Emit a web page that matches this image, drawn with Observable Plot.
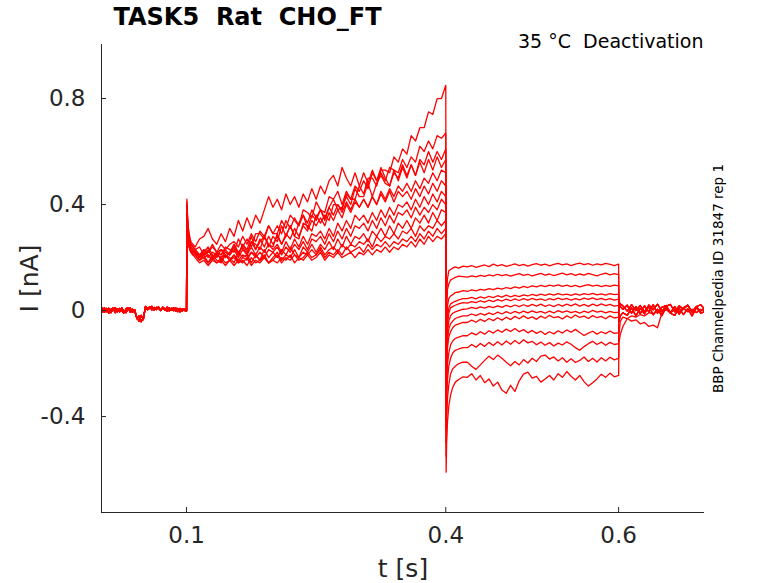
<!DOCTYPE html>
<html>
<head>
<meta charset="utf-8">
<script src="https://cdn.jsdelivr.net/npm/d3@7"></script>
<script src="https://cdn.jsdelivr.net/npm/@observablehq/plot@0.6"></script>
<style>
  html, body { margin: 0; padding: 0; background: #fff; }
</style>
</head>
<body>
<div id="chart"></div>
<script>
// ---- labels & ticks ----
const title = "TASK5\u00a0 Rat\u00a0 CHO_FT";
const subtitle = "35 °C\u00a0 Deactivation";
const sideLabel = "BBP Channelpedia ID 31847 rep 1";
const xLabel = "t [s]";
const yLabel = "I [nA]";
const xTicks = [0.1, 0.4, 0.6];
const yTicks = [-0.4, 0, 0.4, 0.8];
const xDomain = [0.0016, 0.6994];
const yDomain = [-0.762, 1.004];

// ---- sample times (s) ----
const tBase = d3.range(41).map(k => k * 0.0025);                 // 0 .. 0.1
const tOn1 = [0.1004, 0.1015, 0.103, 0.105, 0.1075];               // step-1 onset
const tStep1 = d3.range(59).map(k => 0.11 + k * 0.005);            // 0.11 .. 0.40
const tOn2 = [0.4004, 0.401, 0.402, 0.4035, 0.4055, 0.408, 0.411, 0.415, 0.42];
const tStep2 = d3.range(36).map(k => 0.425 + k * 0.005);           // 0.425 .. 0.60
const tTail = [0.6004, 0.602, 0.605].concat(d3.range(19).map(k => 0.61 + k * 0.005));

// ---- holding baseline (nA) ----
const baseA = [0.008,-0.006,0.010,-0.004,0.009,-0.008,0.006,0.011,-0.005,0.008,-0.002,-0.009,0.007,0.010,-0.006,0.005,-0.004,-0.025,-0.040,-0.018,-0.034,0.016,0.006,0.015,0.003,0.012,0.004,0.014,0.001,0.011,0.002,0.013,-0.001,0.009,0.000,0.010,-0.004,0.008,-0.002,0.007,0.001];
const baseB = [-0.006,0.009,-0.007,0.008,-0.010,0.005,0.009,-0.008,0.006,-0.005,0.010,-0.003,-0.008,0.006,0.009,-0.007,0.003,-0.030,-0.020,-0.042,-0.026,0.012,0.003,0.010,0.016,0.001,0.012,0.009,0.000,0.013,0.006,-0.002,0.010,0.002,0.011,-0.003,0.008,-0.005,0.006,0.001,-0.002];

// ---- step 1 onsets (nA) ----
const on1 = [
  [0.40,0.32,0.27,0.25,0.24],
  [0.42,0.33,0.28,0.25,0.24],
  [0.38,0.30,0.26,0.24,0.23],
  [0.41,0.33,0.29,0.26,0.25],
  [0.39,0.30,0.26,0.24,0.23],
  [0.40,0.31,0.27,0.25,0.24],
  [0.37,0.29,0.25,0.23,0.22],
  [0.38,0.29,0.25,0.23,0.22],
  [0.36,0.28,0.24,0.22,0.21],
  [0.39,0.30,0.25,0.23,0.22],
  [0.37,0.28,0.24,0.22,0.21],
  [0.36,0.28,0.24,0.22,0.21]
];

// ---- step 1 bodies, 0.11 .. 0.40 s (nA) ----
const s1_1 = [0.23,0.21,0.22,0.24,0.21,0.20,0.23,0.22,0.21, 0.25,0.22,0.24,0.21,0.26,0.25,0.23,0.28,0.25,0.24, 0.29,0.25,0.28,0.32,0.28,0.27,0.33,0.32,0.30,0.36, 0.33,0.36,0.34,0.40,0.40,0.38,0.44,0.42,0.42,0.47, 0.44,0.50,0.50,0.47,0.53,0.53,0.52,0.58, 0.56,0.61,0.59,0.66, 0.64,0.69,0.69,0.75,0.74,0.80,0.80,0.85];
const s1_2 = [0.23,0.24,0.21,0.22,0.25,0.22,0.21,0.24,0.23, 0.22,0.27,0.24,0.27,0.24,0.29,0.29,0.27,0.32,0.29, 0.29,0.34,0.31,0.36,0.34,0.32,0.38,0.37,0.35,0.41, 0.38,0.37,0.43,0.42,0.45,0.40,0.45,0.42,0.47,0.45, 0.49,0.46,0.52,0.49,0.52,0.49,0.54,0.53,0.52,0.57, 0.54,0.58,0.56,0.62,0.60,0.64,0.61,0.66,0.65,0.67];
const s1_3 = [0.22,0.20,0.23,0.21,0.19,0.22,0.23,0.20,0.22, 0.25,0.21,0.25,0.23,0.28,0.23,0.26,0.28,0.24,0.28, 0.26,0.32,0.28,0.32,0.28,0.33,0.36,0.31,0.36,0.34, 0.38,0.34,0.39,0.42,0.38,0.39,0.43,0.40,0.46,0.43, 0.43,0.48,0.43,0.48,0.51,0.48,0.47,0.52,0.50,0.55, 0.51,0.55,0.51,0.57,0.55,0.60,0.56,0.60,0.57,0.61];
const s1_4 = [0.24,0.27,0.28,0.31,0.27,0.25,0.29,0.26,0.31, 0.28,0.34,0.30,0.35,0.31,0.36,0.33,0.38,0.43,0.39, 0.42,0.38,0.44,0.40,0.43,0.39,0.44,0.41,0.46,0.42, 0.47,0.44,0.49,0.51,0.47,0.54,0.50,0.47,0.52,0.47, 0.52,0.48,0.53,0.49,0.54,0.50,0.47,0.53,0.49,0.54, 0.50,0.55,0.51,0.56,0.52,0.57,0.53,0.58,0.54,0.57];
const s1_5 = [0.22,0.20,0.21,0.23,0.20,0.22,0.21,0.23,0.21, 0.24,0.21,0.25,0.22,0.26,0.23,0.27,0.24,0.28,0.25, 0.28,0.25,0.29,0.27,0.31,0.28,0.32,0.30,0.34,0.32, 0.35,0.32,0.37,0.34,0.38,0.35,0.40,0.37,0.41,0.39, 0.42,0.39,0.43,0.40,0.45,0.42,0.46,0.43,0.47,0.45, 0.48,0.45,0.49,0.46,0.50,0.48,0.52,0.49,0.53,0.52];
const s1_6 = [0.23,0.21,0.23,0.22,0.24,0.22,0.25,0.23,0.25, 0.26,0.24,0.28,0.25,0.29,0.26,0.30,0.28,0.32,0.29, 0.32,0.29,0.34,0.31,0.35,0.32,0.36,0.33,0.38,0.35, 0.38,0.35,0.39,0.36,0.40,0.37,0.41,0.38,0.42,0.39, 0.42,0.39,0.43,0.40,0.44,0.41,0.45,0.41,0.45,0.43, 0.45,0.42,0.46,0.43,0.47,0.44,0.48,0.45,0.49,0.47];
const s1_7 = [0.22,0.20,0.22,0.20,0.22,0.21,0.20,0.22,0.21, 0.23,0.20,0.23,0.21,0.24,0.21,0.24,0.22,0.25,0.23, 0.25,0.22,0.26,0.23,0.27,0.24,0.28,0.25,0.29,0.28, 0.30,0.27,0.31,0.28,0.33,0.30,0.34,0.31,0.36,0.34, 0.36,0.33,0.37,0.34,0.38,0.35,0.39,0.36,0.40,0.39, 0.41,0.38,0.42,0.39,0.43,0.40,0.44,0.41,0.45,0.43];
const s1_8 = [0.22,0.21,0.20,0.21,0.19,0.21,0.20,0.21,0.19, 0.21,0.19,0.21,0.20,0.22,0.20,0.22,0.20,0.23,0.22, 0.24,0.21,0.24,0.22,0.25,0.23,0.26,0.23,0.27,0.26, 0.28,0.25,0.29,0.26,0.30,0.27,0.31,0.28,0.32,0.31, 0.33,0.30,0.34,0.31,0.35,0.32,0.36,0.33,0.37,0.36, 0.38,0.35,0.39,0.36,0.39,0.37,0.40,0.38,0.42,0.40];
const s1_9 = [0.21,0.19,0.21,0.18,0.20,0.22,0.19,0.21,0.20, 0.18,0.22,0.20,0.19,0.22,0.21,0.19,0.23,0.20,0.22, 0.20,0.23,0.21,0.24,0.21,0.20,0.24,0.22,0.25,0.22, 0.25,0.23,0.26,0.23,0.27,0.24,0.28,0.25,0.28,0.27, 0.29,0.26,0.30,0.28,0.31,0.28,0.32,0.29,0.33,0.31, 0.34,0.31,0.35,0.33,0.36,0.33,0.37,0.34,0.38,0.37];
const s1_10 = [0.21,0.19,0.20,0.18,0.21,0.19,0.18,0.21,0.19, 0.21,0.18,0.20,0.21,0.18,0.21,0.19,0.21,0.18,0.20, 0.22,0.19,0.21,0.20,0.23,0.20,0.22,0.21,0.23,0.21, 0.24,0.21,0.23,0.24,0.22,0.25,0.23,0.25,0.24,0.26, 0.25,0.27,0.24,0.28,0.26,0.28,0.27,0.29,0.27,0.30, 0.29,0.31,0.28,0.32,0.30,0.32,0.31,0.34,0.32,0.34];
const s1_11 = [0.21,0.19,0.20,0.18,0.20,0.18,0.19,0.17,0.19, 0.20,0.18,0.19,0.17,0.20,0.18,0.19,0.20,0.18,0.19, 0.21,0.18,0.20,0.19,0.21,0.19,0.20,0.22,0.20,0.21, 0.23,0.20,0.22,0.21,0.23,0.21,0.24,0.22,0.23,0.24, 0.22,0.25,0.23,0.25,0.24,0.26,0.24,0.26,0.25,0.27, 0.26,0.28,0.26,0.29,0.27,0.30,0.28,0.31,0.29,0.31];
const s1_12 = [0.20,0.18,0.19,0.17,0.19,0.18,0.20,0.18,0.19, 0.17,0.19,0.18,0.20,0.17,0.19,0.18,0.20,0.18,0.19, 0.18,0.20,0.19,0.21,0.18,0.20,0.19,0.21,0.19,0.20, 0.22,0.19,0.21,0.20,0.22,0.20,0.21,0.22,0.20,0.22, 0.21,0.23,0.21,0.23,0.22,0.24,0.22,0.24,0.23,0.25, 0.24,0.26,0.24,0.27,0.25,0.28,0.26,0.28,0.27,0.29];

// ---- step 2 onsets (nA) ----
const on2 = [
  [-0.10, 0.05, 0.12, 0.15, 0.155, 0.16, 0.165, 0.16, 0.168],
  [-0.15, 0.00, 0.08, 0.10, 0.115, 0.12, 0.125, 0.13, 0.128],
  [-0.22,-0.06, 0.02, 0.045, 0.055, 0.06, 0.068, 0.07, 0.075],
  [-0.28,-0.10,-0.02, 0.01, 0.025, 0.03, 0.035, 0.04, 0.045],
  [-0.30,-0.13,-0.05,-0.01, 0.01, 0.015, 0.02, 0.025, 0.03],
  [-0.35,-0.17,-0.08,-0.04,-0.02,-0.01,-0.005, 0.0, 0.005],
  [-0.38,-0.20,-0.11,-0.07,-0.05,-0.04,-0.03,-0.025,-0.02],
  [-0.42,-0.24,-0.14,-0.10,-0.08,-0.065,-0.055,-0.05,-0.045],
  [-0.45,-0.29,-0.20,-0.16,-0.13,-0.115,-0.105,-0.10,-0.095],
  [-0.50,-0.34,-0.26,-0.21,-0.18,-0.16,-0.15,-0.145,-0.14],
  [-0.55,-0.42,-0.33,-0.28,-0.24,-0.22,-0.21,-0.20,-0.195],
  [-0.61,-0.50,-0.42,-0.36,-0.32,-0.29,-0.27,-0.26,-0.25]
];

// ---- step 2 bodies, 0.425 .. 0.60 s (nA) ----
const s2_1 = [0.165,0.170,0.163,0.168,0.172,0.166,0.175,0.169,0.173,0.167,0.171,0.176,0.170,0.174,0.168,0.173,0.177,0.171,0.175,0.169,0.174,0.178,0.172,0.176,0.170,0.175,0.179,0.173,0.177,0.171,0.176,0.172,0.178,0.174,0.170,0.175];
const s2_2 = [0.126,0.131,0.127,0.133,0.129,0.135,0.131,0.137,0.132,0.136,0.130,0.135,0.139,0.133,0.137,0.131,0.136,0.140,0.134,0.138,0.132,0.137,0.141,0.135,0.139,0.133,0.138,0.134,0.140,0.136,0.131,0.137,0.141,0.135,0.139,0.136];
const s2_3 = [0.072,0.078,0.074,0.080,0.077,0.083,0.079,0.085,0.081,0.087,0.083,0.089,0.085,0.091,0.087,0.093,0.089,0.095,0.090,0.096,0.092,0.097,0.091,0.096,0.090,0.095,0.089,0.094,0.098,0.092,0.096,0.090,0.095,0.091,0.096,0.093];
const s2_4 = [0.045,0.050,0.044,0.052,0.047,0.054,0.049,0.056,0.051,0.058,0.052,0.057,0.053,0.059,0.055,0.061,0.056,0.062,0.057,0.063,0.058,0.064,0.059,0.062,0.057,0.063,0.058,0.064,0.060,0.065,0.059,0.063,0.058,0.064,0.060,0.062];
const s2_5 = [0.028,0.034,0.030,0.037,0.032,0.039,0.034,0.041,0.036,0.043,0.037,0.044,0.038,0.045,0.039,0.046,0.040,0.044,0.038,0.045,0.040,0.047,0.041,0.046,0.039,0.045,0.040,0.047,0.042,0.048,0.041,0.046,0.040,0.045,0.039,0.043];
const s2_6 = [0.006,0.012,0.007,0.014,0.009,0.016,0.011,0.018,0.012,0.020,0.014,0.021,0.015,0.022,0.016,0.023,0.017,0.024,0.016,0.022,0.015,0.023,0.017,0.024,0.018,0.025,0.017,0.023,0.016,0.024,0.018,0.025,0.019,0.023,0.017,0.020];
const s2_7 = [-0.020,-0.013,-0.019,-0.011,-0.017,-0.009,-0.015,-0.006,-0.013,-0.004,-0.011,-0.003,-0.010,-0.002,-0.009,-0.001,-0.008,-0.003,-0.010,-0.002,-0.009,0.000,-0.007,-0.001,-0.008,-0.003,-0.010,-0.002,-0.008,0.001,-0.006,-0.002,-0.009,-0.003,-0.008,-0.006];
const s2_8 = [-0.045,-0.036,-0.044,-0.033,-0.041,-0.030,-0.038,-0.027,-0.036,-0.025,-0.034,-0.022,-0.031,-0.020,-0.030,-0.024,-0.033,-0.021,-0.029,-0.018,-0.027,-0.023,-0.032,-0.020,-0.028,-0.017,-0.026,-0.021,-0.030,-0.019,-0.027,-0.022,-0.031,-0.020,-0.028,-0.025];
const s2_9 = [-0.095,-0.084,-0.092,-0.080,-0.089,-0.076,-0.085,-0.073,-0.082,-0.070,-0.079,-0.068,-0.080,-0.072,-0.084,-0.075,-0.086,-0.078,-0.090,-0.080,-0.088,-0.076,-0.085,-0.073,-0.082,-0.071,-0.083,-0.094,-0.085,-0.078,-0.089,-0.080,-0.087,-0.077,-0.086,-0.083];
const s2_10 = [-0.140,-0.128,-0.138,-0.124,-0.135,-0.120,-0.132,-0.118,-0.130,-0.115,-0.127,-0.113,-0.125,-0.110,-0.122,-0.116,-0.129,-0.119,-0.131,-0.121,-0.134,-0.123,-0.130,-0.118,-0.127,-0.140,-0.150,-0.136,-0.125,-0.116,-0.128,-0.119,-0.131,-0.120,-0.128,-0.125];
const s2_11 = [-0.195,-0.210,-0.222,-0.205,-0.188,-0.172,-0.185,-0.168,-0.180,-0.195,-0.208,-0.192,-0.205,-0.185,-0.198,-0.180,-0.192,-0.172,-0.168,-0.183,-0.175,-0.190,-0.178,-0.195,-0.182,-0.196,-0.188,-0.175,-0.192,-0.180,-0.194,-0.178,-0.190,-0.176,-0.186,-0.180];
const s2_12 = [-0.252,-0.238,-0.262,-0.245,-0.272,-0.258,-0.285,-0.270,-0.300,-0.312,-0.282,-0.305,-0.265,-0.240,-0.232,-0.255,-0.248,-0.270,-0.258,-0.245,-0.262,-0.238,-0.252,-0.230,-0.248,-0.262,-0.245,-0.268,-0.285,-0.272,-0.258,-0.240,-0.252,-0.236,-0.250,-0.245];

// ---- tails after 0.6 s (nA) ----
const tailA = [0.040,0.015,0.005,0.020,-0.010,0.015,-0.012,0.018,-0.005,0.022,-0.010,0.012,0.019,-0.008,0.015,-0.013,0.010,0.020,-0.006,0.014,-0.002,0.012];
const tailB = [-0.040,-0.020,-0.008,-0.018,0.010,-0.020,0.008,-0.012,0.016,-0.016,0.005,-0.019,0.012,-0.010,-0.018,0.010,-0.015,0.007,-0.020,0.011,-0.010,-0.004];
const tailC = [0.015,0.025,0.018,-0.002,0.022,0.000,0.019,-0.004,0.021,0.003,0.024,-0.002,0.016,0.023,-0.005,0.018,0.006,0.020,-0.003,0.015,0.022,0.004];
const tailSlow1 = [-0.090,-0.040,-0.025,-0.030,-0.040,-0.035,-0.050,-0.045,-0.060,-0.055,-0.065,-0.010,0.006,-0.008,0.004,-0.006,0.008,-0.004,0.005,-0.007,0.003,0.000];
const tailSlow2 = [-0.120,-0.090,-0.060,-0.030,-0.020,-0.025,-0.015,-0.020,-0.008,-0.012,0.002,-0.006,0.004,-0.010,0.007,-0.003,0.010,-0.005,0.002,-0.008,0.005,-0.002];

const step1 = [s1_1,s1_2,s1_3,s1_4,s1_5,s1_6,s1_7,s1_8,s1_9,s1_10,s1_11,s1_12];
const step2 = [s2_1,s2_2,s2_3,s2_4,s2_5,s2_6,s2_7,s2_8,s2_9,s2_10,s2_11,s2_12];
const bases = [baseA, baseB];
const tails = [tailA,tailB,tailC,tailA,tailB,tailC,tailA,tailB,tailC,tailA,tailSlow1,tailSlow2];

// ---- build table ----
const rows = [];
step1.forEach((s1, n) => {
  const push = (ts, vs) => ts.forEach((t, k) => rows.push({trace: n, t, i: vs[k]}));
  push(tBase, bases[n % 2]);
  push(tOn1, on1[n]);
  push(tStep1, s1);
  push(tOn2, on2[n]);
  push(tStep2, step2[n]);
  push(tTail, tails[n]);
});

const ink = "#262626";
const chart = Plot.plot({
  width: 778,
  height: 583,
  marginLeft: 101,
  marginRight: 74,
  marginTop: 44,
  marginBottom: 71,
  x: {domain: xDomain},
  y: {domain: yDomain},
  style: {fontFamily: "DejaVu Sans", background: "#fff", overflow: "visible"},
  marks: [
    Plot.line(rows, {x: "t", y: "i", z: "trace", stroke: "#ff0000", strokeWidth: 1.3, clip: true}),
    Plot.ruleX([xDomain[0]], {stroke: ink, strokeWidth: 1}),
    Plot.ruleY([yDomain[0]], {stroke: ink, strokeWidth: 1}),
    Plot.tickX(xTicks, {x: d => d, stroke: ink, insetTop: 463}),
    Plot.tickY(yTicks, {y: d => d, stroke: ink, insetRight: 598}),
    Plot.axisX(xTicks, {tickSize: 0, tickPadding: 14, fontSize: 23, color: ink, label: null, tickFormat: d => String(d)}),
    Plot.axisY(yTicks, {tickSize: 0, tickPadding: 16, fontSize: 23, color: ink, label: null, tickFormat: d => String(d)}),
    Plot.text([xLabel], {text: d => d, frameAnchor: "bottom", textAnchor: "middle", lineAnchor: "middle", dy: 56, fontSize: 25, fill: ink}),
    Plot.text([yLabel], {text: d => d, frameAnchor: "left", textAnchor: "middle", lineAnchor: "middle", dx: -72, rotate: -90, fontSize: 25, fill: ink}),
    Plot.text([title], {text: d => d, frameAnchor: "top-left", textAnchor: "start", lineAnchor: "middle", dx: 12, dy: -27, fontSize: 24, fontWeight: "bold", fill: "#000"}),
    Plot.text([subtitle], {text: d => d, frameAnchor: "top-right", textAnchor: "end", lineAnchor: "middle", dx: -1, dy: -3, fontSize: 19, fill: "#000"}),
    Plot.text([sideLabel], {text: d => d, frameAnchor: "right", textAnchor: "middle", lineAnchor: "middle", dx: 14, rotate: -90, fontSize: 13.5, fill: "#000"})
  ]
});
document.getElementById("chart").appendChild(chart);
</script>
</body>
</html>
